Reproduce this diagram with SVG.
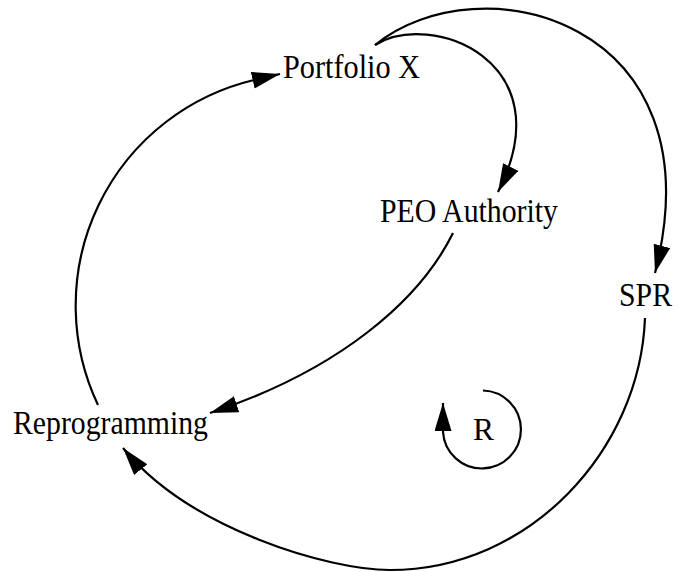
<svg xmlns="http://www.w3.org/2000/svg" width="679" height="572" viewBox="0 0 679 572">
<style>
.lbl{font-family:"Liberation Serif","Times New Roman",serif;font-size:33px;fill:#000}
.loop{font-family:"Liberation Serif","Times New Roman",serif;font-size:31px;fill:#000}
.edge{fill:none;stroke:#000;stroke-width:2.2}
</style>
<defs>
<marker id="ah" markerUnits="userSpaceOnUse" markerWidth="30" markerHeight="18" refX="28" refY="8.5" orient="auto" viewBox="0 0 30 18">
<path d="M0,0 L28,8.5 L0,17 Z" fill="#000"/>
</marker>
</defs>
<rect width="679" height="572" fill="#fff"/>
<g id="connectors">
<path class="edge" d="M98,405 A232,232 0 0 1 254,80 L280,74" marker-end="url(#ah)"/>
<path class="edge" d="M375,45 C430,10 565,60 498,192" marker-end="url(#ah)"/>
<path class="edge" d="M375,45 C480,-40 720,20 655,273" marker-end="url(#ah)"/>
<path class="edge" d="M453,233 C420,300 340,370 210,413" marker-end="url(#ah)"/>
<path class="edge" d="M645,318 C640,450 530,570 390,570 C330,570 190,530 123,448" marker-end="url(#ah)"/>
</g>
<g id="node-portfolio-x"><text class="lbl" x="283" y="78" textLength="137" lengthAdjust="spacingAndGlyphs">Portfolio X</text></g>
<g id="node-peo-authority"><text class="lbl" x="380" y="222" textLength="178" lengthAdjust="spacingAndGlyphs">PEO Authority</text></g>
<g id="node-spr"><text class="lbl" x="619" y="306" textLength="53" lengthAdjust="spacingAndGlyphs">SPR</text></g>
<g id="node-reprogramming"><text class="lbl" x="13" y="434" textLength="195" lengthAdjust="spacingAndGlyphs">Reprogramming</text></g>
<g id="loop-r">
<path class="edge" d="M483,390.5 A39,39 0 1 1 443,432 L443,403" marker-end="url(#ah)"/>
<text class="loop" x="473" y="440" textLength="21" lengthAdjust="spacingAndGlyphs">R</text>
</g>
</svg>
